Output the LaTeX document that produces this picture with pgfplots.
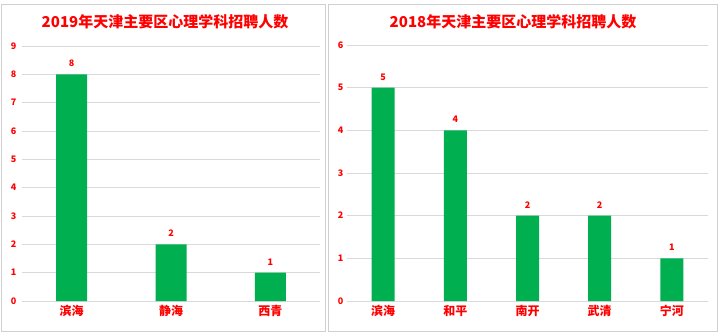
\documentclass[border=0pt]{standalone}
\usepackage{pgfplots}
\pgfplotsset{compat=1.18}
\usepackage{fontspec}
\setmainfont{Noto Sans CJK SC}
\definecolor{xlgreen}{HTML}{00B050}
\definecolor{xlred}{HTML}{FF0000}
\definecolor{gridc}{HTML}{D9D9D9}
\definecolor{framec}{HTML}{D0D0D0}
\begin{document}
\begin{tikzpicture}
\path[use as bounding box, fill=white] (0pt,0pt) rectangle (720pt,333pt);
\draw[framec, line width=0.8pt] (1.5pt,1.5pt) rectangle (325pt,329pt);
\draw[framec, line width=0.8pt] (328pt,1.5pt) rectangle (717pt,329pt);
\node[text=xlred, font=\bfseries\fontsize{15}{18}\selectfont] at (165pt,311pt) {2019年天津主要区心理学科招聘人数};
\node[text=xlred, font=\bfseries\fontsize{15}{18}\selectfont] at (513pt,311pt) {2018年天津主要区心理学科招聘人数};
\pgfplotsset{
  mystyle/.style={
    scale only axis,
    axis line style={draw=none},
    major tick length=0pt,
    ymin=0,
    ytick distance=1,
    ymajorgrids,
    grid style={gridc, line width=0.9pt},
    xtick=data,
    /pgf/number format/assume math mode=true,
    yticklabel style={text=xlred, font=\bfseries\fontsize{9}{10}\selectfont},
    xticklabel style={text=xlred, font=\bfseries\fontsize{12}{14}\selectfont, yshift=-1pt},
    nodes near coords,
    every node near coord/.append style={text=xlred, font=\bfseries\fontsize{9}{10}\selectfont, yshift=4pt},
    clip=false,
  }
}
\begin{axis}[mystyle,
  anchor=south west, at={(22pt,32pt)},
  width=298pt, height=255pt,
  xmin=-0.5, xmax=2.5, ymax=9,
  xticklabels={滨海,静海,西青},
  yticklabel style={xshift=-2pt},
]
\addplot[ybar, bar width=31pt, fill=xlgreen, draw=none] coordinates {(0,8) (1,2) (2,1)};
\end{axis}
\begin{axis}[mystyle,
  anchor=south west, at={(347pt,32pt)},
  width=361pt, height=256pt,
  xmin=-0.5, xmax=4.5, ymax=6,
  xticklabels={滨海,和平,南开,武清,宁河},
]
\addplot[ybar, bar width=23pt, fill=xlgreen, draw=none] coordinates {(0,5) (1,4) (2,2) (3,2) (4,1)};
\end{axis}
\end{tikzpicture}
\end{document}
